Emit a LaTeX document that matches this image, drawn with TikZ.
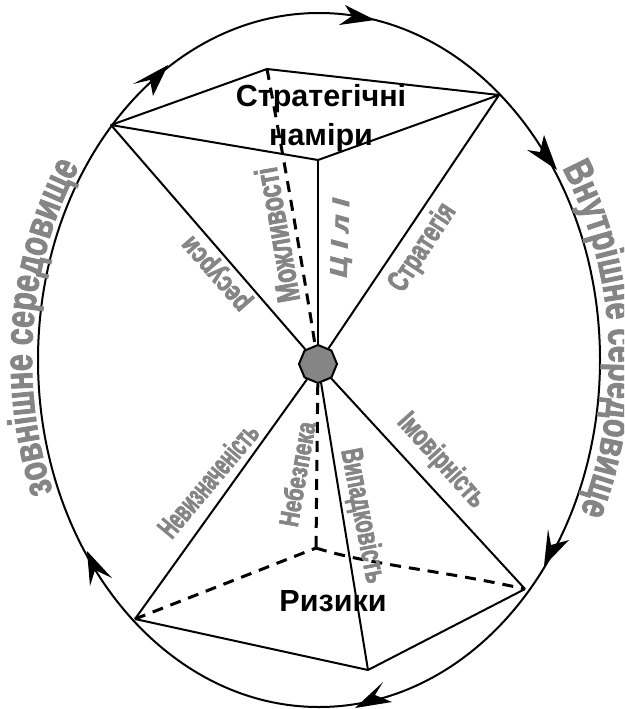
\documentclass[tikz,border=0pt]{standalone}
\usepackage{fontspec}
\setmainfont{Liberation Sans}
\newfontfamily\grayfont[FakeBold=3]{Liberation Sans Bold}
\newfontfamily\outerfont[FakeStretch=0.76,FakeBold=2]{Liberation Sans Bold}
\usetikzlibrary{shapes.geometric,decorations.text}
\definecolor{lgray}{gray}{0.52}
\tikzset{
  edge/.style={line width=2pt,line join=round},
  hidden/.style={line width=3pt,dash pattern=on 11pt off 8pt},
  head/.style={fill=black},
  lab/.style={text=lgray,transform shape,inner sep=0pt},
  title/.style={font=\fontsize{30.5}{35}\selectfont\bfseries,inner sep=0pt,align=center},
  hub/.style={regular polygon,regular polygon sides=8,shape border rotate=22.5,draw=black,line width=2pt,fill=lgray,minimum size=38pt,inner sep=0pt}
}
\begin{document}
\begin{tikzpicture}[x=1pt,y=-1pt]
\useasboundingbox (0,0) rectangle (624,709);
\clip (0,0) rectangle (624,709);
\fill[white] (0,0) rectangle (624,709);
% ring
\draw[edge] (319,360) ellipse [x radius=281,y radius=347];
% corner points
\coordinate (A) at (111,125);
\coordinate (B) at (267,69);
\coordinate (C) at (499,95);
\coordinate (D) at (318,160);
\coordinate (E) at (135,619);
\coordinate (F) at (368,670);
\coordinate (G) at (525,589);
\coordinate (H) at (316,548);
\node[hub] (O) at (318,364) {};
% upper pyramid
\draw[edge] (A) -- (B) -- (C) -- (D) -- cycle;
\draw[edge] (A) -- (O);
\draw[edge] (C) -- (O);
\draw[edge] (D) -- (O);
\draw[hidden] (B) .. controls (285,165) and (305,280) .. (O);
% lower pyramid
\draw[edge] (E) -- (F) -- (G);
\draw[edge] (E) -- (O);
\draw[edge] (F) -- (O);
\draw[edge] (G) -- (O);
\draw[hidden] (O) -- (H);
\draw[hidden] (E) -- (H);
\draw[hidden] (H) .. controls (370,565) and (440,570) .. (G);
% arrowheads
\fill[head] (375,20) -- (345,5) -- (352,16) -- (339,25) -- cycle;
\fill[head] (557,170) -- (544,135) -- (540,152) -- (527,150) -- cycle;
\fill[head] (544,566) -- (548,529) -- (551,545) -- (569,540) -- cycle;
\fill[head] (355,708) -- (383,682) -- (375,695) -- (392,702) -- cycle;
\fill[head] (87,551) -- (112,578) -- (95,570) -- (90,586) -- cycle;
\fill[head] (168,65) -- (133,84) -- (150,80) -- (153,96) -- cycle;
% outer labels
\path[decorate,decoration={text along path,text align=left,
  text={|\outerfont\fontsize{40}{44}\selectfont\color{lgray}|зовнішне середовище}}]
  (319,360) ++(158:287 and 352) arc [start angle=158,end angle=250,x radius=287,y radius=352];
\path[decorate,decoration={text along path,text align=left,
  text={|\outerfont\fontsize{40}{44}\selectfont\color{lgray}|Внутрішне середовище}}]
  (319,360) ++(-33:290 and 352) arc [start angle=-33,end angle=60,x radius=290,y radius=352];
% spoke labels
\node[lab,rotate=131,xscale=.8,font=\grayfont\fontsize{28}{32}\selectfont] (l1) at (218,272) {ресурси};
\node[lab,rotate=100,xscale=.72,font=\grayfont\fontsize{32}{36}\selectfont] (l2) at (277,235) {Можливості};
\node[lab,rotate=88,xscale=1.2,font=\grayfont\itshape\fontsize{24}{28}\selectfont] (l3) at (342,238) {Ц І л І};
\node[lab,rotate=57,xscale=.7,font=\grayfont\fontsize{30}{34}\selectfont] (l4) at (423,248) {Стратегія};
\node[lab,rotate=50,xscale=.59,font=\grayfont\fontsize{30}{34}\selectfont] (l5) at (208,480) {Невизначеність};
\node[lab,rotate=80,xscale=.76,font=\grayfont\fontsize{27}{30}\selectfont] (l6) at (297,474) {Небезпека};
\node[lab,rotate=-79,xscale=.67,font=\grayfont\fontsize{30}{34}\selectfont] (l7) at (362,516) {Випадковість};
\node[lab,rotate=-48,xscale=.71,font=\grayfont\fontsize{29}{32}\selectfont] (l8) at (441,461) {Імовірність};
% titles
\node[title] (t1) at (321,118) {Стратегічні\\[4pt]наміри};
\node[title] (t2) at (333,601) {Ризики};
\end{tikzpicture}
\end{document}
